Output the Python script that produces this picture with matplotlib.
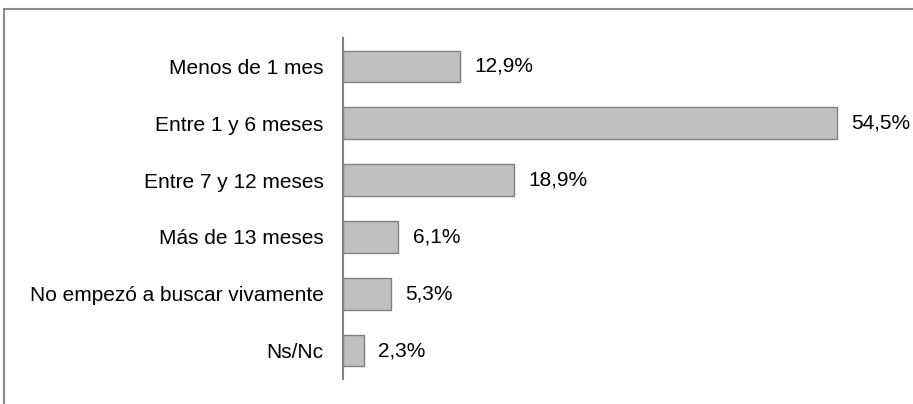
import numpy as np
import matplotlib.pyplot as plt
from matplotlib.patches import Rectangle

plt.rcParams['font.family'] = ['Liberation Sans', 'DejaVu Sans']
plt.rcParams['font.size'] = 15

# Categories and values (percent), top to bottom
categories = ["Menos de 1 mes", "Entre 1 y 6 meses", "Entre 7 y 12 meses",
              "Más de 13 meses", "No empezó a buscar vivamente", "Ns/Nc"]
values = [12.9, 54.5, 18.9, 6.1, 5.3, 2.3]
value_labels = ["12,9%", "54,5%", "18,9%", "6,1%", "5,3%", "2,3%"]

W, H = 913, 404
fig = plt.figure(figsize=(W / 100, H / 100), dpi=100)

# Outer frame (cut off on right and bottom)
fig.patches.append(Rectangle((4 / W, -0.1), 2.0, (H - 9) / H + 0.1,
                             transform=fig.transFigure, fill=False,
                             edgecolor='#8c8c8c', linewidth=1.5))

ax = fig.add_axes([343 / W, 25 / H, 544 / W, 341 / H])
y = np.arange(len(categories))
ax.barh(y, values, height=0.56, color='#c0c0c0', edgecolor='#808080', linewidth=1)
ax.set_ylim(len(categories) - 0.5, -0.5)
ax.set_xlim(0, 60)

for yi, v, lab in zip(y, values, value_labels):
    ax.text(v + 1.6, yi, lab, va='center', ha='left', fontsize=15, color='black')

ax.set_yticks(y)
ax.set_yticklabels(categories)
ax.tick_params(axis='y', length=0, pad=14)
ax.set_xticks([])
for s in ['top', 'right', 'bottom']:
    ax.spines[s].set_visible(False)
ax.spines['left'].set_color('#808080')
ax.spines['left'].set_linewidth(1.5)

fig.savefig('out.png', dpi=100)
